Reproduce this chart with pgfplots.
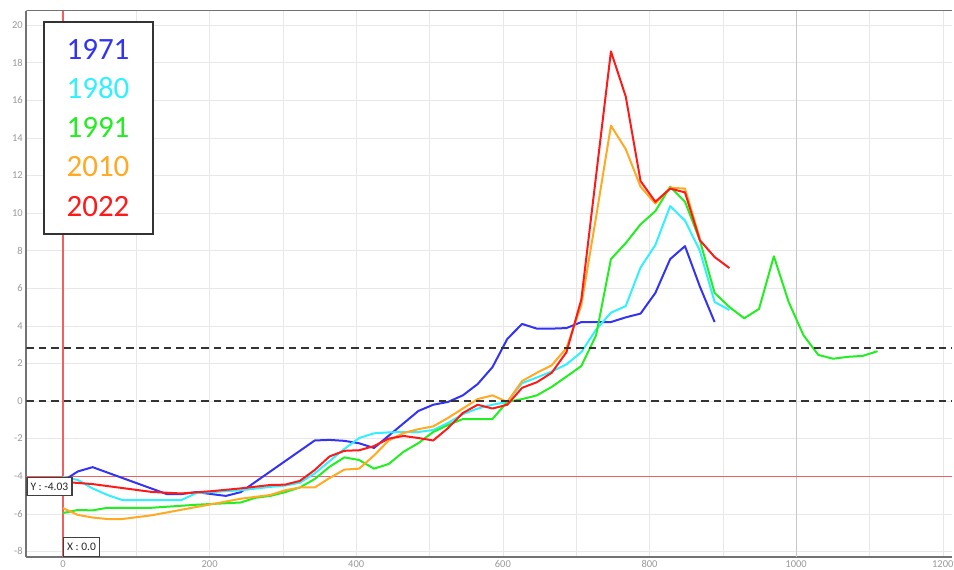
\documentclass[border=0pt]{standalone}
\usepackage{pgfplots}
\pgfplotsset{compat=1.18}
\usepackage{fontspec}
\setmainfont{Carlito}
\definecolor{c71}{HTML}{3333F5}
\definecolor{c80}{HTML}{33F0FF}
\definecolor{c91}{HTML}{22EE22}
\definecolor{c10}{HTML}{FFAA22}
\definecolor{c22}{HTML}{FF1A1A}
\definecolor{tickc}{HTML}{999999}
\definecolor{crossc}{HTML}{F06060}
\begin{document}
\begin{tikzpicture}[x=1pt,y=1pt]
\path[use as bounding box] (0,0) rectangle (954,570);
\begin{axis}[
 at={(26.3pt,13pt)}, anchor=south west,
 width=926pt, height=546pt, scale only axis,
 xmin=-50, xmax=1213, ymin=-8.3, ymax=20.75,
 xtick={0,200,...,1200}, minor xtick={100,300,...,1100},
 ytick={-8,-6,...,20},
 grid=both, major grid style={draw=black!9}, minor grid style={draw=black!9},
 major tick length=0pt, minor tick length=0pt,
 axis lines=left, axis line style={-, draw=black!55, line width=1.8pt},
 tick label style={font=\fontsize{10.5}{12}\selectfont, text=tickc},
 /pgf/number format/assume math mode=true,
 /pgf/number format/1000 sep={},
 every axis plot/.append style={line width=2pt, line join=round},
]
\draw[black!55, line width=1pt] (rel axis cs:0,1) -- (rel axis cs:1,1);
\draw[black!22, line width=0.8pt] (axis cs:1000,-8.3) -- (axis cs:1000,20.75);
\draw[draw=crossc, line width=1.1pt] (axis cs:0,-8.3) -- (axis cs:0,20.75);
\draw[draw=crossc, line width=1.1pt] (axis cs:-50,-4.03) -- (axis cs:1213,-4.03);
% 1971
\addplot[c71] coordinates {
(0,-4.26) (20.2,-3.75) (40.4,-3.52) (141.4,-4.95) (161.6,-4.95) (181.8,-4.85)
(202,-4.95) (222.2,-5.05) (242.4,-4.85) (343.4,-2.1) (363.6,-2.07) (383.8,-2.12)
(404,-2.25) (424.2,-2.5) (484.8,-0.53) (505,-0.2) (525.2,-0.05) (545.4,0.3)
(565.6,0.9) (585.8,1.8) (606,3.3) (626.2,4.1) (646.4,3.85) (666.6,3.85)
(686.8,3.88) (707,4.2) (727.2,4.2) (747.4,4.2) (767.6,4.45) (787.8,4.65)
(808,5.75) (828.2,7.55) (848.4,8.24) (868.6,6.1) (888.8,4.2)};
% 1980
\addplot[c80] coordinates {
(0,-4.04) (20.2,-4.2) (40.4,-4.65) (60.6,-5.0) (80.8,-5.27) (161.6,-5.27)
(181.8,-4.9) (202,-4.85) (242.4,-4.75) (282.8,-4.57) (303,-4.5) (323.2,-4.35)
(343.4,-3.85) (363.6,-3.2) (383.8,-2.55) (404,-1.97) (424.2,-1.72) (444.4,-1.67)
(464.6,-1.65) (484.8,-1.65) (505,-1.54) (525.2,-1.17) (545.4,-0.7) (565.6,-0.4)
(585.8,-0.2) (606,-0.05) (626.2,0.95) (646.4,1.25) (666.6,1.57) (686.8,1.95)
(707,2.6) (727.2,3.8) (747.4,4.7) (767.6,5.05) (787.8,7.1) (808,8.3)
(828.2,10.37) (848.4,9.6) (868.6,8.0) (888.8,5.27) (909,4.84)};
% 1991
\addplot[c91] coordinates {
(0,-5.96) (20.2,-5.8) (40.4,-5.82) (60.6,-5.68) (121.2,-5.68) (181.8,-5.52)
(242.4,-5.4) (262.6,-5.15) (282.8,-5.05) (303,-4.85) (323.2,-4.6) (343.4,-4.15)
(363.6,-3.5) (383.8,-3.0) (404,-3.14) (424.2,-3.6) (444.4,-3.35) (464.6,-2.7)
(484.8,-2.24) (505,-1.65) (525.2,-1.28) (545.4,-0.96) (565.6,-0.96) (585.8,-0.96)
(606,-0.05) (626.2,0.1) (646.4,0.3) (666.6,0.75) (686.8,1.3) (707,1.86)
(727.2,3.5) (747.4,7.55) (767.6,8.4) (787.8,9.4) (808,10.1) (828.2,11.4)
(848.4,10.6) (868.6,8.56) (888.8,5.75) (909,5.0) (929.2,4.4) (949.4,4.9)
(969.6,7.7) (989.8,5.27) (1010,3.5) (1030.2,2.45) (1050.4,2.25) (1070.6,2.35)
(1090.8,2.4) (1111,2.65)};
% 2010
\addplot[c10] coordinates {
(0,-5.7) (20.2,-6.06) (40.4,-6.2) (60.6,-6.28) (80.8,-6.28) (121.2,-6.08)
(181.8,-5.64) (222.2,-5.35) (242.4,-5.2) (282.8,-5.0) (303,-4.75) (323.2,-4.6)
(343.4,-4.6) (363.6,-4.1) (383.8,-3.65) (404,-3.6) (424.2,-2.9) (444.4,-2.1)
(464.6,-1.7) (484.8,-1.5) (505,-1.35) (525.2,-0.9) (545.4,-0.4) (565.6,0.1)
(585.8,0.3) (606,-0.05) (626.2,1.06) (646.4,1.5) (666.6,1.9) (686.8,2.82)
(707,5.1) (727.2,9.8) (747.4,14.65) (767.6,13.4) (787.8,11.4) (808,10.5)
(828.2,11.35) (848.4,11.3) (868.6,8.65)};
% 2022
\addplot[c22] coordinates {
(0,-4.3) (40.4,-4.42) (80.8,-4.63) (121.2,-4.84) (161.6,-4.92) (202,-4.8)
(242.4,-4.65) (282.8,-4.47) (303,-4.45) (323.2,-4.25) (343.4,-3.67) (363.6,-2.95)
(383.8,-2.65) (404,-2.62) (424.2,-2.4) (444.4,-2.0) (464.6,-1.86) (484.8,-1.97)
(505,-2.1) (525.2,-1.44) (545.4,-0.64) (565.6,-0.2) (585.8,-0.4) (606,-0.2)
(626.2,0.7) (646.4,1.0) (666.6,1.5) (686.8,2.6) (707,5.4) (727.2,12.0)
(747.4,18.6) (767.6,16.2) (787.8,11.7) (808,10.6) (828.2,11.3) (848.4,11.1)
(868.6,8.56) (888.8,7.66) (909,7.07)};
% dashed reference lines
\addplot[black!80, line width=2.2pt, dash pattern=on 7.5pt off 5pt] coordinates {(-50,0) (1213,0)};
\addplot[black!80, line width=2.2pt, dash pattern=on 7.5pt off 5pt] coordinates {(-50,2.8) (1213,2.8)};
\node[draw=black!75, line width=1.2pt, fill=white, anchor=north west, minimum width=45pt, minimum height=18pt, inner sep=1.5pt, font=\fontsize{11.5}{12}\selectfont, text=black!85] at (axis cs:-50,-4.03) {Y : -4.03};
\node[draw=black!75, line width=1.2pt, fill=white, anchor=south west, minimum width=36pt, minimum height=19pt, inner sep=1.5pt, font=\fontsize{11.5}{12}\selectfont, text=black!85] at (axis cs:0,-8.3) {X : 0.0};
\end{axis}
\draw[black!80, line width=1.2pt, fill=white] (44,336) rectangle (153,548);
\begin{scope}[every node/.style={inner sep=0pt, anchor=center, font=\fontsize{31}{31}\selectfont}]
\node[text=c71] at (98,521) {1971};
\node[text=c80] at (98,482) {1980};
\node[text=c91] at (98,443) {1991};
\node[text=c10] at (98,403) {2010};
\node[text=c22] at (98,363) {2022};
\end{scope}
\end{tikzpicture}
\end{document}
